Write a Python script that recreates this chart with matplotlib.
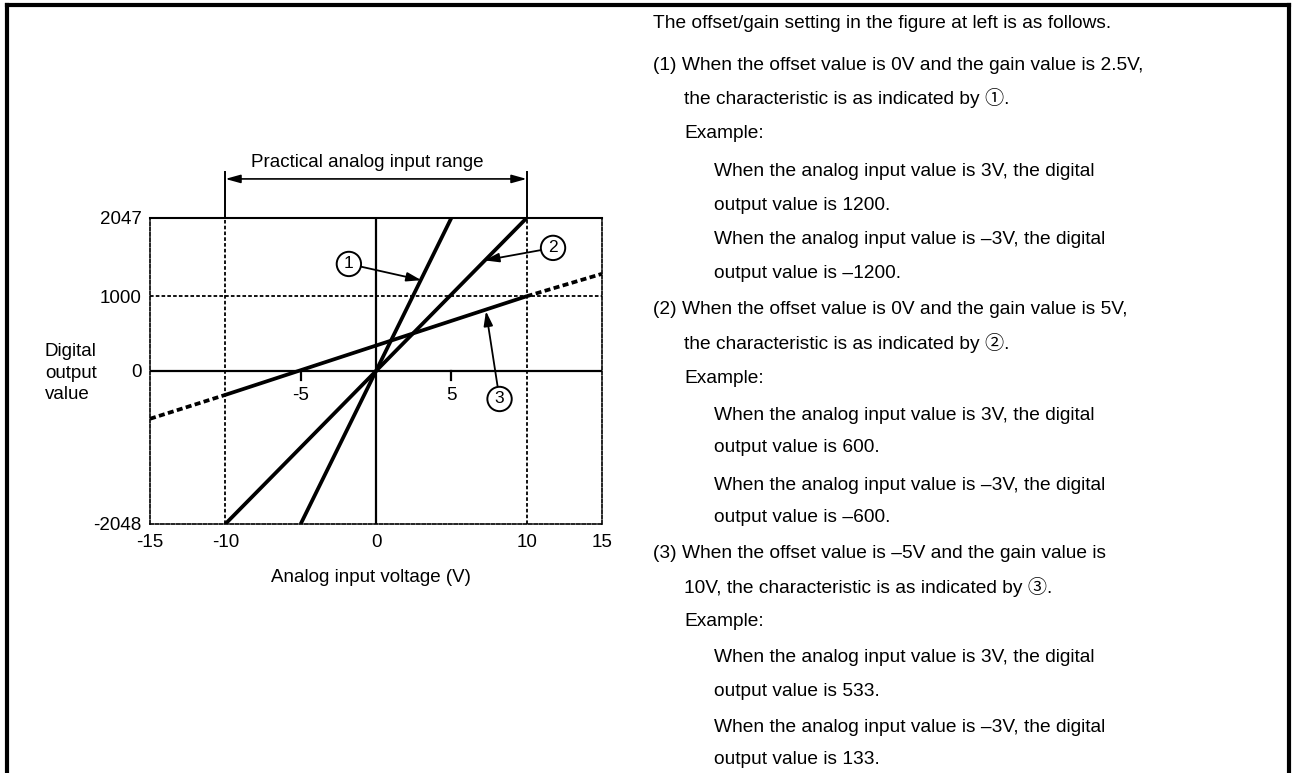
import matplotlib.pyplot as plt
from matplotlib.lines import Line2D

plt.rcParams['font.family'] = ['Liberation Sans', 'Noto Sans CJK JP', 'DejaVu Sans']
plt.rcParams['axes.unicode_minus'] = False

# characteristic lines (V -> digital value)
x_line1 = [-5, 5]
y_line1 = [-2048, 2047]
x_line2 = [-10, 10]
y_line2 = [-2048, 2047]
x_line3 = [-10, 10]
y_line3 = [-320, 1000]
x_line3_left = [-15, -10]
y_line3_left = [-640, -320]
x_line3_right = [10, 15]
y_line3_right = [1000, 1300]

x_ticks = [-15, -10, 0, 10, 15]
y_ticks = [-2048, 0, 1000, 2047]
inner_ticks = [-5, 5]
range_limits = [-10, 10]

text_lines = [
    "The offset/gain setting in the figure at left is as follows.",
    "(1) When the offset value is 0V and the gain value is 2.5V,",
    "the characteristic is as indicated by \u2460.",
    "Example:",
    "When the analog input value is 3V, the digital",
    "output value is 1200.",
    "When the analog input value is \u20133V, the digital",
    "output value is \u20131200.",
    "(2) When the offset value is 0V and the gain value is 5V,",
    "the characteristic is as indicated by \u2461.",
    "Example:",
    "When the analog input value is 3V, the digital",
    "output value is 600.",
    "When the analog input value is \u20133V, the digital",
    "output value is \u2013600.",
    "(3) When the offset value is \u20135V and the gain value is",
    "10V, the characteristic is as indicated by \u2462.",
    "Example:",
    "When the analog input value is 3V, the digital",
    "output value is 533.",
    "When the analog input value is \u20133V, the digital",
    "output value is 133.",
]
text_indent = [0, 0, 1, 1, 2, 2, 2, 2, 0, 1, 1, 2, 2, 2, 2, 0, 1, 1, 2, 2, 2, 2]
text_y = [24, 65, 98, 133, 172, 205, 240, 273, 310, 343, 378,
          415, 448, 485, 517, 553, 587, 622, 658, 692, 728, 760]

W, H = 1294, 773
fs = 13.5
fig = plt.figure(figsize=(W / 100, H / 100), dpi=100)
ax = fig.add_axes([150 / W, 1 - 524 / H, 452 / W, 306 / H])

ax.set_xlim(-15, 15)
ax.set_ylim(-2048, 2047)

# grid lines
dot = (0, (2, 1.2))
for xv in range_limits:
    ax.axvline(xv, color='black', lw=1.3, ls=dot)
ax.axhline(1000, color='black', lw=1.3, ls=dot)
ax.axvline(0, color='black', lw=1.6)
ax.axhline(0, color='black', lw=1.6)

# small ticks at +-5 on the zero line
for xv in inner_ticks:
    ax.plot([xv, xv], [0, -120], color='black', lw=1.6)
    ax.text(xv, -325, str(xv), ha='center', va='center', fontsize=fs)

# characteristics
ax.plot(x_line1, y_line1, color='black', lw=2.7, solid_capstyle='butt')
ax.plot(x_line2, y_line2, color='black', lw=2.7, solid_capstyle='butt')
ax.plot(x_line3, y_line3, color='black', lw=2.7, solid_capstyle='butt')
ax.plot(x_line3_left, y_line3_left, color='black', lw=2.7, ls=(0, (1.6, 0.9)))
ax.plot(x_line3_right, y_line3_right, color='black', lw=2.7, ls=(0, (1.6, 0.9)))

# circled labels with arrows
labels = [("1", (-1.8, 1432), (3.0, 1215)),
          ("2", (11.75, 1647), (7.2, 1480)),
          ("3", (8.2, -375), (7.3, 800))]
for txt, center, tip in labels:
    ax.annotate(txt, xy=tip, xytext=center, fontsize=fs - 1, ha='center', va='center',
                bbox=dict(boxstyle='circle,pad=0.27', fc='white', ec='black', lw=1.4),
                arrowprops=dict(arrowstyle='-|>,head_length=0.7,head_width=0.22',
                                color='black', lw=1.3, shrinkA=0, shrinkB=0),
                annotation_clip=False)

# practical range bracket above the plot
for xv in range_limits:
    ax.plot([xv, xv], [2047, 2664], color='black', lw=1.4, clip_on=False)
ax.annotate('', xy=(range_limits[0], 2570), xytext=(range_limits[1], 2570),
            arrowprops=dict(arrowstyle='<|-|>,head_length=0.9,head_width=0.25',
                            color='black', lw=1.2, shrinkA=0, shrinkB=0),
            annotation_clip=False)
ax.text(-0.6, 2790, "Practical analog input range", ha='center', va='center',
        fontsize=fs)

# frame
for side in ['left', 'right', 'bottom']:
    ax.spines[side].set_linestyle(dot)
    ax.spines[side].set_linewidth(1.2)
ax.spines['top'].set_linewidth(1.5)

ax.set_xticks(x_ticks)
ax.set_yticks(y_ticks)
ax.tick_params(length=0, labelsize=fs)
ax.tick_params(axis='x', pad=7)
ax.tick_params(axis='y', pad=6)

fig.text(371 / W, 1 - 577 / H, "Analog input voltage (V)", ha='center', va='center',
         fontsize=fs)
fig.text(45 / W, 1 - 373 / H, "Digital\noutput\nvalue", ha='left', va='center',
         fontsize=fs, linespacing=1.35)

# explanatory text on the right
indent_x = [653, 684, 714]
for line, ind, yy in zip(text_lines, text_indent, text_y):
    fig.text(indent_x[ind] / W, 1 - yy / H, line, ha='left', va='center', fontsize=13.8)

# outer border (open at the bottom)
fig.add_artist(Line2D([7 / W, 7 / W], [0, 1 - 5 / H], color='black', lw=3))
fig.add_artist(Line2D([7 / W, 1289 / W], [1 - 5 / H, 1 - 5 / H], color='black', lw=3))
fig.add_artist(Line2D([1289 / W, 1289 / W], [0, 1 - 5 / H], color='black', lw=3))

fig.savefig("out.png", dpi=100)
